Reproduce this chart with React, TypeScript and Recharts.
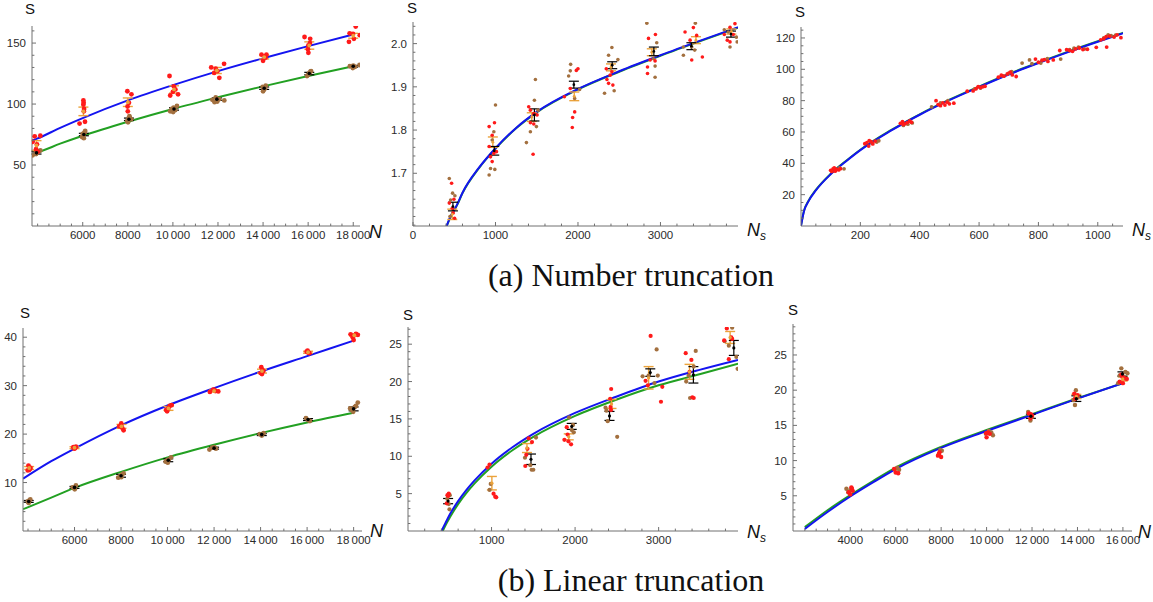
import React from "react";
import { ComposedChart, Scatter, Line, XAxis, YAxis, ErrorBar } from "recharts";

type P = [number, number];
type E = [number, number, number];

// ---- (a) Number truncation, left: S vs N ----
const a1Red: P[] = [
  [3780, 69], [3870, 73.5], [4120, 74], [3930, 63], [4010, 61], [3970, 67],
  [6030, 103], [6040, 101], [6030, 99.5], [6050, 94], [5860, 84], [6100, 85.5], [6060, 96],
  [7980, 110.5], [8160, 108], [8000, 94], [7990, 98], [8050, 101],
  [9850, 123], [9880, 107], [10040, 114.5], [10110, 112], [10230, 108], [10000, 110],
  [11700, 130], [11900, 129], [12060, 121.5], [11830, 125.5], [12270, 133], [11980, 127],
  [13930, 140.5], [14080, 139], [14150, 140.5], [14000, 135.5], [14110, 138],
  [15840, 155], [16090, 153.5], [16010, 148], [15990, 145], [16010, 142], [16080, 150],
  [18110, 163.5], [17840, 158], [17810, 151], [18030, 153.5], [18290, 156.5], [17990, 157.5],
];
const a1Brown: P[] = [
  [3780, 58], [3870, 59.5], [3970, 60], [4040, 61], [4120, 62], [3930, 59],
  [5970, 73], [6020, 74.5], [6060, 76], [6090, 77], [6050, 72], [6000, 75.5], [6110, 78],
  [7970, 86], [8030, 88], [8090, 89], [8150, 87.5], [8010, 85], [8070, 90],
  [9880, 94], [9950, 96], [10030, 97], [10100, 95], [10180, 98.5], [10010, 93.5],
  [11750, 103.5], [11900, 105.5], [11970, 102], [12050, 104], [12280, 103], [11850, 101.5],
  [13980, 114], [14050, 112], [14120, 115], [14000, 110.5], [14080, 113],
  [15950, 123], [16050, 125.5], [16100, 126.5], [16000, 124], [16130, 127],
  [17850, 131], [17980, 129.5], [18280, 132], [18080, 130.5], [18000, 131.5],
];
const a1Orange: E[] = [
  [3950, 66, 4], [6030, 94, 3.5], [8000, 101.5, 3.5], [10050, 112, 3],
  [11950, 127.5, 2.5], [14050, 138.5, 1.5], [16050, 148, 3], [18000, 156, 2],
];
const a1Black: E[] = [
  [3950, 60, 1], [6050, 75, 1], [8050, 87.5, 1], [10050, 96, 1],
  [11950, 104, 1], [14050, 113, 1], [16050, 125, 1], [18000, 131, 0.7],
];
const a1Blue: P[] = [
  [3750, 70], [4000, 71.8], [5000, 80.5], [6000, 88.5], [8000, 103], [10000, 115.5],
  [12000, 127], [14000, 137.5], [16000, 147.5], [18000, 157],
];
const a1Green: P[] = [
  [3750, 59.5], [4000, 60.5], [5000, 67.5], [6000, 74], [8000, 85.5], [10000, 96],
  [12000, 105.5], [14000, 114.5], [16000, 123], [18000, 131],
];

// ---- (a) middle: S vs N_s ----
const a2Red: P[] = [
  [440, 1.631], [468, 1.677], [496, 1.64], [488, 1.608], [504, 1.596], [476, 1.619],
  [923, 1.808], [988, 1.817], [960, 1.788], [923, 1.762], [980, 1.746], [1012, 1.75], [960, 1.727], [940, 1.738],
  [1423, 1.817], [1423, 1.846], [1464, 1.838], [1504, 1.835], [1464, 1.814], [1456, 1.744], [1403, 1.854],
  [1835, 1.877], [1931, 1.806], [1935, 1.829], [1960, 1.842], [1980, 1.938], [2000, 1.942], [1907, 1.896],
  [2343, 1.942], [2351, 1.917], [2391, 1.927], [2411, 1.935], [2423, 1.904], [2371, 1.908],
  [2843, 1.931], [2843, 1.946], [2875, 1.962], [2935, 1.96], [2939, 2.021], [2855, 2.012],
  [3298, 2.027], [3379, 1.962], [3508, 1.969], [3399, 2.037], [3439, 2.019], [3359, 2.008],
  [3774, 2.021], [3810, 2.008], [3843, 2.004], [3903, 2.046], [3883, 2.021], [3843, 2.038],
];
const a2Brown: P[] = [
  [440, 1.688], [456, 1.638], [508, 1.648], [448, 1.6], [480, 1.654],
  [1000, 1.858], [923, 1.696], [940, 1.711], [992, 1.709], [980, 1.796], [960, 1.777],
  [1484, 1.917], [1375, 1.771], [1423, 1.796], [1496, 1.808], [1472, 1.869], [1516, 1.846],
  [1911, 1.952], [1907, 1.937], [1960, 1.873], [2020, 1.894], [1887, 1.925],
  [2322, 1.885], [2411, 1.991], [2439, 1.891], [2484, 1.963], [2371, 1.973],
  [2835, 2.047], [2935, 1.922], [2935, 1.948], [2955, 2.002], [2915, 1.965],
  [3278, 1.973], [3379, 1.992], [3415, 1.985], [3423, 2.047], [3278, 1.992],
  [3774, 2.032], [3843, 1.992], [3930, 2.004], [3920, 2.015], [3822, 2.027],
];
const a2Orange: E[] = [
  [476, 1.605, 0.012], [968, 1.772, 0.012], [1440, 1.83, 0.01], [1955, 1.878, 0.01],
  [2400, 1.945, 0.008], [2895, 1.98, 0.008], [3430, 2.008, 0.008], [3860, 2.028, 0.006],
];
const a2Black: E[] = [
  [484, 1.623, 0.01], [985, 1.752, 0.01], [1472, 1.835, 0.014], [1950, 1.905, 0.008],
  [2415, 1.95, 0.008], [2920, 1.982, 0.01], [3375, 1.994, 0.008], [3855, 2.022, 0.007],
];
const a2Blue: P[] = [
  [407, 1.578], [450, 1.598], [536, 1.628], [600, 1.655], [800, 1.713], [1000, 1.758],
  [1250, 1.805], [1500, 1.842], [2000, 1.895], [2500, 1.936], [3000, 1.973], [3500, 2.008], [3940, 2.038],
];
const a2Green: P[] = [
  [409, 1.578], [450, 1.597], [536, 1.627], [600, 1.654], [800, 1.712], [1000, 1.757],
  [1250, 1.804], [1500, 1.841], [2000, 1.894], [2500, 1.935], [3000, 1.972], [3500, 2.007], [3940, 2.037],
];

// ---- (a) right: S vs N_s ----
const a3Red: P[] = [
  [100, 35.5], [108, 36.5], [115, 35], [120, 36.2], [127, 35.8], [133, 36.6], [112, 37], [104, 34.8],
  [215, 52.5], [222, 53.2], [228, 51], [236, 53.8], [242, 52.4], [250, 54.2], [230, 54.5],
  [335, 65.5], [342, 66.6], [350, 65.2], [358, 66], [366, 67], [372, 66.2], [345, 64.8],
  [455, 80], [462, 77.5], [470, 76.8], [478, 78.6], [485, 77.2], [492, 79], [500, 78], [515, 78.4],
  [560, 86], [580, 86.2], [590, 87.6], [597, 89], [604, 88.4], [612, 88.8], [620, 89.2],
  [665, 95], [675, 96.2], [684, 95.6], [695, 97], [705, 98.2], [712, 96.4], [725, 95.4],
  [790, 106.5], [800, 104.5], [812, 105.8], [820, 106.2], [832, 105], [850, 106], [872, 112], [895, 112.5],
  [905, 112], [915, 111.5], [925, 113], [938, 113.6], [950, 112.6], [965, 112.8], [995, 114], [1030, 114.2],
  [1010, 118.8], [1020, 119.5], [1028, 120.8], [1040, 121.2], [1055, 120.6], [1065, 122], [1078, 120.2],
];
const a3Brown: P[] = [
  [118, 36.4], [130, 37], [145, 36.5],
  [240, 52.8], [255, 53.6], [262, 54.4],
  [345, 64.2], [360, 65], [375, 65.8],
  [440, 76], [470, 78.6], [495, 80],
  [585, 87.5], [605, 88],
  [680, 95.8], [700, 97.5], [710, 98.5],
  [745, 104], [770, 106], [778, 103.6], [808, 104], [830, 106.8], [875, 106.5],
  [905, 112.5], [920, 113.5], [935, 114.2], [955, 113],
  [1020, 120], [1035, 122], [1045, 121.4], [1060, 121.8],
];
const a3Blue: P[] = [
  [0, 0], [10, 9.4], [25, 15.7], [50, 22.7], [100, 33], [150, 41], [200, 48.4], [300, 60.5],
  [400, 71], [500, 80.3], [600, 88.7], [700, 96.7], [800, 104], [900, 111], [1000, 117.6], [1085, 123],
];
const a3Green: P[] = [
  [0, 0.3], [10, 9.7], [25, 16], [50, 23], [100, 33.3], [150, 41.3], [200, 48.7], [300, 60.8],
  [400, 71.3], [500, 80.6], [600, 89], [700, 97], [800, 104.3], [900, 111.3], [1000, 117.9], [1085, 123.3],
];

// ---- (b) Linear truncation, left ----
const b1Red: P[] = [
  [4020, 13.5], [4080, 12.8], [4050, 12.6], [4110, 13], [3990, 12.5],
  [5950, 17.3], [6020, 17.1], [6060, 17.4], [5990, 17],
  [7920, 21.6], [8010, 22.2], [8050, 21.3], [8110, 20.8], [8000, 21.8],
  [9940, 25], [9980, 24.7], [10090, 25.8], [10180, 26], [10030, 25.3],
  [11820, 28.7], [11960, 29.2], [12050, 28.9], [12180, 28.8], [12010, 29.1],
  [14030, 33.8], [14090, 33.2], [14000, 32.6], [14120, 33], [14060, 32.4],
  [15980, 37], [16060, 36.8], [16100, 36.7], [16020, 37.2],
  [17870, 40.6], [17990, 40.3], [18100, 40.7], [18180, 40.5], [17960, 40], [18000, 39.4],
];
const b1Brown: P[] = [
  [4010, 6], [4060, 6.3], [4100, 6.5], [4030, 5.8], [3990, 6.1],
  [5920, 9], [5980, 8.8], [6060, 9.4], [6010, 8.6],
  [7880, 11], [7960, 11.3], [8050, 11.7], [8110, 11.9], [8010, 11.1],
  [9920, 14.3], [9990, 14.6], [10150, 15.2], [10060, 14.8], [10010, 14.1],
  [11800, 16.8], [11920, 17.2], [12080, 17], [12000, 17.3],
  [13960, 20], [14050, 19.7], [14130, 20.2],
  [15950, 23.3], [16040, 22.9], [16120, 22.7],
  [17850, 25.3], [17920, 25], [18050, 25.6], [18180, 26.5], [17980, 24.6], [18100, 25.8],
];
const b1Orange: E[] = [
  [4050, 13, 0.3], [6000, 17.2, 0.2], [8020, 21.6, 0.4], [10040, 25.3, 0.4],
  [12000, 28.9, 0.2], [14060, 33, 0.4], [16040, 36.9, 0.2], [18030, 40.4, 0.2],
];
const b1Black: E[] = [
  [4030, 6.1, 0.2], [6000, 9, 0.2], [8000, 11.4, 0.3], [10030, 14.6, 0.3],
  [12000, 17.1, 0.2], [14050, 19.9, 0.2], [16040, 23, 0.2], [18000, 25.2, 0.4],
];
const b1Blue: P[] = [
  [3790, 10.8], [5000, 14.4], [6000, 17], [8000, 21.8], [10000, 25.9], [12000, 29.5],
  [14000, 32.9], [16000, 36.1], [18000, 39.3],
];
const b1Green: P[] = [
  [3790, 4.5], [5000, 6.9], [6000, 8.9], [8000, 12.2], [10000, 15.2], [12000, 17.8],
  [14000, 20.2], [16000, 22.4], [18000, 24.4],
];

// ---- (b) middle ----
const b2Red: P[] = [
  [464, 3.7], [472, 4.8], [488, 5], [480, 4.7],
  [952, 8.5], [976, 8.9], [1024, 5], [1044, 4.6], [1056, 4.5],
  [1404, 8.7], [1416, 10.2], [1430, 11], [1444, 12.4], [1484, 11.9],
  [1872, 12.2], [1900, 13.9], [1920, 12], [1952, 11.6], [1910, 12.9],
  [2432, 19], [2420, 17.7], [2425, 16.6], [2430, 16.2],
  [2904, 26.1], [2844, 20.1], [3044, 19.3], [3028, 17.3], [2870, 19.5],
  [3324, 23.8], [3392, 22.9], [3370, 21.3], [3404, 17.9], [3420, 17.8],
  [3816, 27.1], [3784, 25.5], [3880, 25.7], [3840, 23], [3870, 25.9],
];
const b2Brown: P[] = [
  [470, 4.3], [488, 3.6], [496, 2.9], [500, 4.8],
  [976, 5.5], [990, 6.3],
  [1400, 9.8], [1464, 8.8], [1480, 8.2], [1500, 8.2], [1532, 12.5],
  [1928, 15.2], [1960, 13.5], [1985, 13.2], [1975, 14.2],
  [2364, 16.5], [2376, 16.1], [2390, 14.7], [2504, 12.6],
  [2808, 20.7], [2880, 20.8], [2976, 24.3], [2990, 20.8], [2950, 19.8],
  [3330, 20], [3360, 20.8], [3444, 24.1], [3376, 17.8], [3420, 22],
  [3880, 27.2], [3790, 25.4], [3840, 24.8], [3930, 23.3], [3945, 21.7],
];
const b2Orange: E[] = [
  [1004, 6.4, 0.9], [1424, 11.1, 0.6], [1924, 12.6, 0.4], [2436, 17, 0.6],
  [2880, 20.5, 1.5], [3370, 21.3, 1], [3856, 25.9, 0.8],
];
const b2Black: E[] = [
  [480, 4, 0.35], [1472, 9.6, 0.7], [1960, 14, 0.4], [2412, 15.4, 0.6],
  [2900, 21.2, 0.5], [3416, 20.9, 1.1], [3900, 24.5, 1],
];
const b2Blue: P[] = [
  [400, 0], [450, 1.1], [500, 2.2], [600, 4], [700, 5.5], [800, 6.8], [1000, 9], [1250, 11.2],
  [1500, 13], [2000, 15.8], [2500, 18], [3000, 20], [3500, 21.6], [3950, 22.9],
];
const b2Green: P[] = [
  [416, 0], [460, 1], [500, 1.8], [600, 3.6], [700, 5.1], [800, 6.4], [1000, 8.6], [1250, 10.8],
  [1500, 12.6], [2000, 15.4], [2500, 17.6], [3000, 19.5], [3500, 21], [3950, 22.4],
];

// ---- (b) right ----
const b3Red: P[] = [
  [3930, 5.5], [4070, 6], [4000, 5.2], [4110, 5.7], [4050, 6.2],
  [6000, 8.3], [6110, 8.2], [5930, 8.8],
  [7860, 10.7], [8000, 10.5], [7930, 11.2], [7900, 10.9],
  [10000, 13.3], [10070, 14], [10140, 13.8], [9980, 13.9],
  [11860, 16.7], [11930, 16], [12000, 16.4], [11950, 16.6],
  [13860, 19.5], [13930, 19], [14000, 19.3], [13900, 18.8],
  [15860, 21.2], [15970, 21.9], [16070, 21.7], [15930, 22.2], [16170, 21.6], [16000, 21],
];
const b3Brown: P[] = [
  [3830, 6], [3910, 5.5], [4000, 5.8],
  [5970, 8.8], [6070, 9], [6150, 8.7],
  [8030, 11.4], [7900, 10.95], [7960, 11.5],
  [10210, 14], [9970, 13.8], [10280, 13.6], [10100, 14.2],
  [11830, 16.9], [11930, 15.7], [12000, 16.2], [11900, 16.6],
  [13930, 20], [13830, 18.6], [13890, 17.9], [14000, 19],
  [15930, 23.1], [16110, 22.6], [15860, 22.1], [15790, 21], [16200, 22.4], [16000, 22],
];
const b3Orange: E[] = [[15990, 21.6, 0.3], [13950, 19.1, 0.3]];
const b3Black: E[] = [[15980, 22.3, 0.3], [13950, 18.8, 0.4], [11950, 16.3, 0.3]];
const b3Blue: P[] = [
  [2000, 0.3], [3000, 2.7], [4000, 4.9], [5000, 6.9], [6000, 8.8], [8000, 11.8],
  [10000, 14.2], [12000, 16.5], [14000, 18.8], [16000, 21],
];
const b3Green: P[] = [
  [2000, 0.55], [3000, 2.95], [4000, 5.1], [5000, 7.1], [6000, 9], [8000, 11.95],
  [10000, 14.35], [12000, 16.6], [14000, 18.85], [16000, 21],
];

// tick labels
const xBigN = [6000, 8000, 10000, 12000, 14000, 16000, 18000];
const xBigN6 = [4000, 6000, 8000, 10000, 12000, 14000, 16000];
const xNs = [0, 1000, 2000, 3000];
const xNs5 = [1000, 2000, 3000];
const xNs3 = [200, 400, 600, 800, 1000];
const yA1 = [50, 100, 150];
const yA2 = [1.7, 1.8, 1.9, 2.0];
const yA3 = [20, 40, 60, 80, 100, 120];
const yB1 = [10, 20, 30, 40];
const yB2 = [5, 10, 15, 20, 25];

const RED = "#ff1a1a";
const BROWN = "#a3703f";
const ORANGE = "#eba33c";
const BLUE = "#1414f0";
const GREEN = "#22a022";
const AXIS = "#707070";
const TXT = "#2b2b2b";
const SANS = '"Liberation Sans", Arimo, Roboto, Arial, sans-serif';
const SERIF = '"Liberation Serif", Tinos, "DejaVu Serif", "Noto Serif", "Times New Roman", serif';

const pts = (a: P[]) => a.map(([x, y]) => ({ x, y }));
const bars = (a: E[]) => a.map(([x, y, e]) => ({ x, y, e }));
const steps = (a: number, b: number, s: number) => {
  const o: number[] = [];
  for (let v = a; v <= b + s * 1e-6; v += s) o.push(+v.toFixed(6));
  return o;
};
const fmtInt = (v: number) =>
  v >= 10000 ? `${Math.floor(v / 1000)}\u2009${String(v % 1000).padStart(3, "0")}` : String(v);

type Box = { x0: number; x1: number; top: number; bot: number };

interface PanelProps {
  box: Box;
  xDomain: [number, number];
  yDomain: [number, number];
  xMajor: number[];
  xMinor: number[];
  yMajor: number[];
  yMinor: number[];
  yFmt?: (v: number) => string;
  red: P[];
  brown: P[];
  orange: E[];
  black: E[];
  blue: P[];
  green: P[];
  r: number;
}

const ML = 50;
const MR = 12;
const MT = 8;
const MB = 24;

function Panel(p: PanelProps) {
  const w = p.box.x1 - p.box.x0 + ML + MR;
  const h = p.box.bot - p.box.top + MT + MB;
  const axisY = MT + (p.box.bot - p.box.top);
  const isMajor = (list: number[], v: number) => list.some((m) => Math.abs(m - v) < 1e-6);
  const xt = Array.from(new Set([...p.xMinor, ...p.xMajor])).sort((a, b) => a - b);
  const yt = Array.from(new Set([...p.yMinor, ...p.yMajor])).sort((a, b) => a - b);
  const yFmt = p.yFmt || ((v: number) => String(v));
  const dot = (fill: string, r: number) => (s: any) =>
    s.cx == null ? <g /> : <circle cx={s.cx} cy={s.cy} r={r} fill={fill} />;

  const xTick = (t: any) => {
    const v = t.payload.value;
    const major = isMajor(p.xMajor, v);
    return (
      <g>
        <line x1={t.x} x2={t.x} y1={axisY} y2={axisY - (major ? 4 : 2.4)} stroke={AXIS} strokeWidth={1} />
        {major && (
          <text x={t.x} y={axisY + 13} textAnchor="middle" fontSize={11.5} fill={TXT} style={{ fontFamily: SANS }}>
            {fmtInt(v)}
          </text>
        )}
      </g>
    );
  };
  const yTick = (t: any) => {
    const v = t.payload.value;
    const major = isMajor(p.yMajor, v);
    return (
      <g>
        <line x1={ML} x2={ML + (major ? 4 : 2.4)} y1={t.y} y2={t.y} stroke={AXIS} strokeWidth={1} />
        {major && (
          <text x={ML - 6} y={t.y + 4} textAnchor="end" fontSize={11.5} fill={TXT} style={{ fontFamily: SANS }}>
            {yFmt(v)}
          </text>
        )}
      </g>
    );
  };

  return (
    <div style={{ position: "absolute", left: p.box.x0 - ML, top: p.box.top - MT, width: w, height: h }}>
      <ComposedChart width={w} height={h} margin={{ top: MT, right: MR, bottom: 0, left: 0 }}>
        <XAxis
          type="number"
          dataKey="x"
          domain={p.xDomain}
          allowDataOverflow
          ticks={xt}
          interval={0}
          height={MB}
          tickLine={false}
          tickSize={0}
          tickMargin={0}
          axisLine={{ stroke: AXIS, strokeWidth: 1 }}
          tick={xTick}
        />
        <YAxis
          type="number"
          dataKey="y"
          domain={p.yDomain}
          allowDataOverflow
          ticks={yt}
          interval={0}
          width={ML}
          tickLine={false}
          tickSize={0}
          tickMargin={0}
          axisLine={{ stroke: AXIS, strokeWidth: 1 }}
          tick={yTick}
        />
        <Scatter data={pts(p.brown)} dataKey="y" fill={BROWN} shape={dot(BROWN, p.r)} isAnimationActive={false} />
        <Scatter data={pts(p.red)} dataKey="y" fill={RED} shape={dot(RED, p.r)} isAnimationActive={false} />
        <Line data={pts(p.green)} dataKey="y" stroke={GREEN} strokeWidth={2} dot={false} type="monotone" isAnimationActive={false} />
        <Line data={pts(p.blue)} dataKey="y" stroke={BLUE} strokeWidth={2} dot={false} type="monotone" isAnimationActive={false} />
        <Scatter data={bars(p.orange)} dataKey="y" fill={ORANGE} shape={dot(ORANGE, p.r * 0.8)} isAnimationActive={false}>
          <ErrorBar dataKey="e" direction="y" width={5} stroke={ORANGE} strokeWidth={1.4} />
        </Scatter>
        <Scatter data={bars(p.black)} dataKey="y" fill="#000" shape={dot("#000", p.r * 0.75)} isAnimationActive={false}>
          <ErrorBar dataKey="e" direction="y" width={5} stroke="#000" strokeWidth={1.2} />
        </Scatter>
      </ComposedChart>
    </div>
  );
}

const boxes: Box[] = [
  { x0: 32, x1: 360, top: 26, bot: 226 },
  { x0: 413, x1: 738, top: 22, bot: 226 },
  { x0: 801, x1: 1123, top: 27, bot: 226 },
  { x0: 23, x1: 362, top: 328, bot: 531 },
  { x0: 408, x1: 738, top: 327, bot: 531 },
  { x0: 793, x1: 1132, top: 324, bot: 531 },
];

function AxisNames() {
  const S = (x: number, y: number, k: number) => (
    <text key={"s" + k} x={x} y={y} textAnchor="middle" fontSize={15} fill="#111" style={{ fontFamily: SANS }}>
      S
    </text>
  );
  const N = (x: number, y: number, sub: boolean, k: number) => (
    <text key={"n" + k} x={x} y={y} fontSize={18} fontStyle="italic" fill="#111" style={{ fontFamily: SANS }}>
      N
      {sub && (
        <tspan fontSize={12} dy={4}>
          s
        </tspan>
      )}
    </text>
  );
  return (
    <svg width={1153} height={602} style={{ position: "absolute", left: 0, top: 0, pointerEvents: "none" }}>
      {S(30, 14, 1)}
      {S(412, 13, 2)}
      {S(800, 17, 3)}
      {S(25, 318, 4)}
      {S(408, 320, 5)}
      {S(793, 315, 6)}
      {N(369, 238, false, 1)}
      {N(747, 236, true, 2)}
      {N(1132, 236, true, 3)}
      {N(370, 537, false, 4)}
      {N(747, 538, true, 5)}
      {N(1138, 538, false, 6)}
    </svg>
  );
}

const capStyle: React.CSSProperties = {
  position: "absolute",
  width: 500,
  left: 381,
  textAlign: "center",
  fontFamily: SERIF,
  fontSize: 32,
  lineHeight: "34px",
  color: "#111",
  whiteSpace: "nowrap",
};

export default function App() {
  return (
    <div style={{ position: "absolute", left: 0, top: 0, width: 1153, height: 602, background: "#fff", overflow: "hidden" }}>
      <Panel
        box={boxes[0]} xDomain={[3750, 18300]} yDomain={[0, 164]}
        xMajor={xBigN} xMinor={steps(4000, 18000, 500)} yMajor={yA1} yMinor={steps(10, 160, 10)}
        red={a1Red} brown={a1Brown} orange={a1Orange} black={a1Black} blue={a1Blue} green={a1Green} r={2.4}
      />
      <Panel
        box={boxes[1]} xDomain={[0, 3940]} yDomain={[1.578, 2.05]}
        xMajor={xNs} xMinor={steps(200, 3800, 200)} yMajor={yA2} yMinor={steps(1.58, 2.04, 0.02)}
        yFmt={(v) => v.toFixed(1)}
        red={a2Red} brown={a2Brown} orange={a2Orange} black={a2Black} blue={a2Blue} green={a2Green} r={1.8}
      />
      <Panel
        box={boxes[2]} xDomain={[0, 1085]} yDomain={[0, 127]}
        xMajor={xNs3} xMinor={steps(50, 1050, 50)} yMajor={yA3} yMinor={steps(5, 125, 5)}
        red={a3Red} brown={a3Brown} orange={[]} black={[]} blue={a3Blue} green={a3Green} r={1.9}
      />
      <Panel
        box={boxes[3]} xDomain={[3785, 18360]} yDomain={[0, 41.9]}
        xMajor={xBigN} xMinor={steps(4000, 18000, 500)} yMajor={yB1} yMinor={steps(2, 40, 2)}
        red={b1Red} brown={b1Brown} orange={b1Orange} black={b1Black} blue={b1Blue} green={b1Green} r={2.4}
      />
      <Panel
        box={boxes[4]} xDomain={[0, 3950]} yDomain={[0, 27.3]}
        xMajor={xNs5} xMinor={steps(200, 3800, 200)} yMajor={yB2} yMinor={steps(1, 27, 1)}
        red={b2Red} brown={b2Brown} orange={b2Orange} black={b2Black} blue={b2Blue} green={b2Green} r={2.1}
      />
      <Panel
        box={boxes[5]} xDomain={[1480, 16400]} yDomain={[0, 29.4]}
        xMajor={xBigN6} xMinor={steps(2000, 16000, 500)} yMajor={yB2} yMinor={steps(1, 29, 1)}
        red={b3Red} brown={b3Brown} orange={b3Orange} black={b3Black} blue={b3Blue} green={b3Green} r={2.2}
      />
      <AxisNames />
      <div style={{ ...capStyle, top: 258 }}>(a) Number truncation</div>
      <div style={{ ...capStyle, top: 563 }}>(b) Linear truncation</div>
    </div>
  );
}
